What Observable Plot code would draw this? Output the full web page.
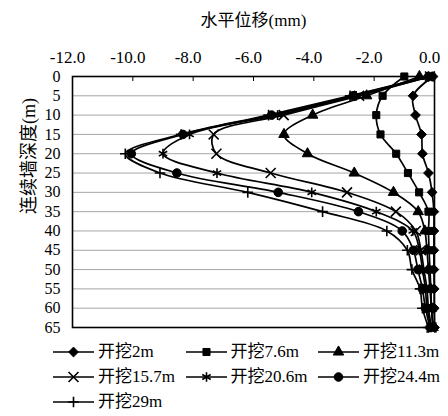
<!DOCTYPE html>
<html><head><meta charset="utf-8">
<script src="https://cdn.jsdelivr.net/npm/d3@7"></script>
<script src="https://cdn.jsdelivr.net/npm/@observablehq/plot@0.6"></script>
<style>
body{margin:0;background:#fff;}
#chart{width:448px;height:416px;overflow:hidden;}
#chart svg{display:block;}
#legend{position:relative;width:448px;height:76px;font-family:'Liberation Serif','Times New Roman','Noto Sans CJK SC',serif;font-size:17px;color:#000;}
.item{position:absolute;height:24px;display:flex;align-items:center;white-space:nowrap;}
.item svg{display:block;flex:none;}
.item span{margin-left:4px;line-height:24px;}
</style></head><body><div id="chart"></div>
<script>
// depth (m) of each reading
const depths = [0,5,10,15,20,25,30,35,40,45,50,55,60,65];
const seriesNames = ["开挖2m","开挖7.6m","开挖11.3m","开挖15.7m","开挖20.6m","开挖24.4m","开挖29m"];
// horizontal displacement (mm) per excavation stage
const disp2m   = [-0.05,-0.71,-0.63,-0.43,-0.40,-0.20,-0.08,-0.02,-0.02,-0.02,-0.02,-0.01,-0.01,0.00];
const disp7_6  = [-1.00,-1.72,-1.93,-1.79,-1.27,-0.88,-0.51,-0.20,-0.20,-0.18,-0.15,-0.12,-0.10,-0.05];
const disp11_3 = [-0.50,-2.25,-4.04,-4.99,-4.21,-2.66,-1.36,-0.54,-0.32,-0.25,-0.20,-0.15,-0.10,-0.05];
const disp15_7 = [-0.15,-2.50,-5.00,-7.32,-7.23,-5.43,-2.90,-1.28,-0.62,-0.45,-0.35,-0.25,-0.20,-0.10];
const disp20_6 = [-0.10,-2.60,-5.20,-8.12,-9.00,-7.21,-4.07,-1.93,-0.72,-0.50,-0.40,-0.30,-0.25,-0.10];
const disp24_4 = [-0.20,-2.70,-5.40,-8.34,-10.05,-8.54,-5.18,-2.52,-1.07,-0.70,-0.55,-0.40,-0.30,-0.15];
const disp29   = [-0.20,-2.80,-5.50,-8.40,-10.25,-9.10,-6.19,-3.71,-1.58,-0.90,-0.75,-0.48,-0.40,-0.20];
const xTicks = [-12,-10,-8,-6,-4,-2,0];
const yTicks = [0,5,10,15,20,25,30,35,40,45,50,55,60,65];
const xTitle = "水平位移(mm)";
const yTitle = "连续墙深度(m)";

const allValues = [disp2m,disp7_6,disp11_3,disp15_7,disp20_6,disp24_4,disp29];
const markerStyles = [
  {symbol:"diamond2", fill:"#000", stroke:"#000", r:4.4, strokeWidth:1},
  {symbol:"square",   fill:"#000", stroke:"#000", r:4.0, strokeWidth:1},
  {symbol:"triangle", fill:"#000", stroke:"#000", r:3.9, strokeWidth:1},
  {symbol:"times",    fill:"none", stroke:"#000", r:4.6, strokeWidth:1.6},
  {symbol:"asterisk", fill:"none", stroke:"#000", r:4.6, strokeWidth:1.6},
  {symbol:"circle",   fill:"#000", stroke:"#000", r:4.3, strokeWidth:1},
  {symbol:"plus",     fill:"none", stroke:"#000", r:3.5, strokeWidth:1.6}
];
const d3Symbols = {diamond2:d3.symbolDiamond2, square:d3.symbolSquare, triangle:d3.symbolTriangle,
  times:d3.symbolTimes, asterisk:d3.symbolAsterisk, circle:d3.symbolCircle, plus:d3.symbolPlus};
const seriesData = seriesNames.map((name,i)=>depths.map((d,j)=>({series:name, depth:d, disp:allValues[i][j]})));

const font = "'Liberation Serif','Times New Roman','Noto Sans CJK SC',serif";

const seriesMarks = seriesData.flatMap((rows,i)=>[
  Plot.line(rows,{x:"disp", y:"depth", curve:"catmull-rom", stroke:"#000", strokeWidth:1.7}),
  Plot.dot(rows,{x:"disp", y:"depth", ...markerStyles[i]})
]);

const main = Plot.plot({
  width:448, height:340,
  marginLeft:72, marginRight:14, marginTop:76, marginBottom:13,
  style:{fontFamily:font, fontSize:"17px", color:"#000", background:"#fff", overflow:"visible"},
  x:{domain:[-12,0]},
  y:{domain:[0,65], reverse:true},
  marks:[
    Plot.gridY(yTicks,{stroke:"#a6a6a6", strokeOpacity:1, strokeWidth:1}),
    Plot.ruleX(xTicks,{y1:()=>0, y2:()=>1.3, stroke:"#000", strokeWidth:1}),
    ...seriesMarks,
    Plot.frame({stroke:"#000", strokeWidth:1.6}),
    Plot.axisX(xTicks,{anchor:"top", tickSize:0, tickPadding:14, dx:-5, tickFormat:d=>d.toFixed(1), label:null, fontSize:17}),
    Plot.axisY(yTicks,{anchor:"left", tickSize:0, tickPadding:12, label:null, fontSize:16}),
    Plot.text([xTitle],{frameAnchor:"top", lineAnchor:"middle", dy:-56, fontSize:17}),
    Plot.text([yTitle],{frameAnchor:"left", rotate:-90, dx:-43, dy:12, fontSize:18})
  ]
});

const el = document.getElementById("chart");
el.appendChild(main);

// legend (HTML text, swatches drawn with d3.symbol)
const legendDiv = document.createElement("div");
legendDiv.id = "legend";
el.appendChild(legendDiv);
seriesNames.forEach((name,i)=>{
  const col = i%3, row = Math.floor(i/3);
  const st = markerStyles[i];
  const item = d3.select(legendDiv).append("div").attr("class","item")
    .style("left",(53 + col*132.5)+"px").style("top",(row*25)+"px");
  const svg = item.append("svg").attr("width",41).attr("height",16);
  svg.append("line").attr("x1",0).attr("x2",41).attr("y1",8).attr("y2",8).attr("stroke","#000").attr("stroke-width",1.7);
  svg.append("path")
    .attr("transform","translate(20.5,8)")
    .attr("d", d3.symbol(d3Symbols[st.symbol], Math.PI*st.r*st.r)())
    .attr("fill", st.fill).attr("stroke", st.stroke).attr("stroke-width", st.strokeWidth);
  item.append("span").text(name);
});
</script></body></html>
